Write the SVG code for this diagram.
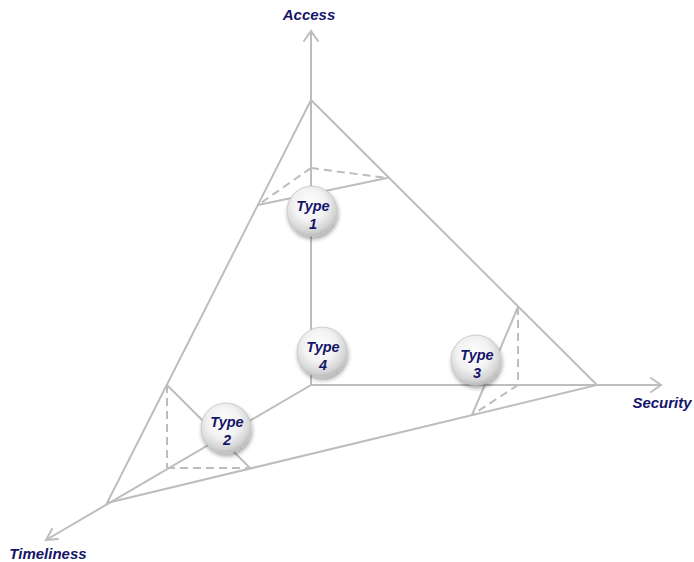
<svg xmlns="http://www.w3.org/2000/svg" width="694" height="562" viewBox="0 0 694 562">
<style>
.ln{stroke:#bdbdbd;stroke-width:2;fill:none;stroke-linecap:round}
.ds{stroke:#bdbdbd;stroke-width:2;fill:none;stroke-dasharray:8,5}
.lbl{font-family:"Liberation Sans",Arial,sans-serif;font-weight:bold;font-style:italic;font-size:15px;fill:#15156a;text-anchor:middle}
.tp{font-size:14.5px}
.ball{fill:url(#bg);stroke:#c4c4c4;stroke-width:0.8;filter:url(#sh)}
</style>
<defs>
<radialGradient id="bg" cx="0.45" cy="0.38" r="0.65">
<stop offset="0" stop-color="#ffffff"/>
<stop offset="0.5" stop-color="#f2f2f2"/>
<stop offset="0.82" stop-color="#d4d4d4"/>
<stop offset="1" stop-color="#b2b2b2"/>
</radialGradient>
<filter id="sh" x="-30%" y="-30%" width="170%" height="170%">
<feGaussianBlur in="SourceAlpha" stdDeviation="2"/>
<feOffset dx="1" dy="3" result="b"/>
<feComponentTransfer><feFuncA type="linear" slope="0.35"/></feComponentTransfer>
<feMerge><feMergeNode/><feMergeNode in="SourceGraphic"/></feMerge>
</filter>
</defs>
<g id="connectors">
<line class="ln" x1="311" y1="385" x2="311" y2="31"/>
<polyline class="ln" points="304,41 311,31 318,41"/>
<line class="ln" x1="311" y1="385" x2="661" y2="385"/>
<polyline class="ln" points="651,378 661,385 651,392"/>
<line class="ln" x1="311" y1="385" x2="46" y2="540"/>
<polyline class="ln" points="52,529 46,540 58,539"/>
<polygon class="ln" points="311,100 597,385 107,503"/>
<line class="ln" x1="258" y1="205" x2="387" y2="178"/>
<line class="ds" x1="311" y1="168" x2="387" y2="178"/>
<line class="ds" x1="311" y1="168" x2="258" y2="205"/>
<line class="ln" x1="167" y1="385" x2="250" y2="468"/>
<line class="ds" x1="167" y1="385" x2="167" y2="468"/>
<line class="ds" x1="167" y1="468" x2="250" y2="468"/>
<line class="ln" x1="518" y1="307" x2="472" y2="415"/>
<line class="ds" x1="518" y1="307" x2="518" y2="385"/>
<line class="ds" x1="518" y1="385" x2="472" y2="415"/>
</g>
<g id="axis-labels">
<text class="lbl" x="309" y="20">Access</text>
<text class="lbl" x="662" y="408">Security</text>
<text class="lbl" x="48" y="559">Timeliness</text>
</g>
<g id="type1">
<circle class="ball" cx="312" cy="211" r="25"/>
<text class="lbl tp" x="313" y="211">Type</text>
<text class="lbl tp" x="313" y="229">1</text>
</g>
<g id="type4">
<circle class="ball" cx="322" cy="352" r="25"/>
<text class="lbl tp" x="323" y="352">Type</text>
<text class="lbl tp" x="323" y="370">4</text>
</g>
<g id="type3">
<circle class="ball" cx="476" cy="360" r="25"/>
<text class="lbl tp" x="477" y="360">Type</text>
<text class="lbl tp" x="477" y="378">3</text>
</g>
<g id="type2">
<circle class="ball" cx="226" cy="428" r="25"/>
<text class="lbl tp" x="227" y="427">Type</text>
<text class="lbl tp" x="227" y="445">2</text>
</g>
</svg>
